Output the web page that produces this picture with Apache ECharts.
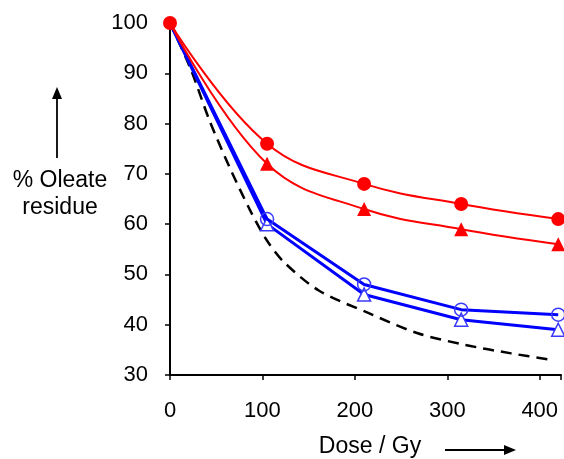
<!DOCTYPE html>
<html>
<head>
<meta charset="utf-8">
<script src="https://cdn.jsdelivr.net/npm/echarts@6/dist/echarts.min.js"></script>
<style>
  html, body { margin: 0; padding: 0; background: #fff; }
  #chart { width: 564px; height: 459px; }
</style>
</head>
<body>
<div id="chart"></div>
<script>
// Dose (Gy) at which samples were measured
const doses = [0, 105, 210, 315, 420];

// % oleate residue for each sample set
const redCircle    = [100, 76, 68, 64, 61];
const redTriangle  = [100, 72, 63, 59, 56];
const blueCircle   = [100, 61, 48, 43, 42];
const blueTriangle = [100, 60, 46, 41, 39];

// Reference curve (dashed), dose / residue pairs
const refDose  = [0, 22, 43, 64, 86, 104, 123, 161, 215, 268, 319, 369, 410];
const refValue = [100, 91, 80.5, 71.5, 63, 57, 52.5, 46.8, 42.3, 38.3, 36, 34.3, 33.1];

const xTicks = [0, 100, 200, 300, 400];
const yTicks = [30, 40, 50, 60, 70, 80, 90, 100];

const FONT = 'Liberation Sans, Arial, sans-serif';

function pairs(xs, ys, hideFirst) {
  return xs.map((x, i) => {
    const item = { value: [x, ys[i]] };
    if (hideFirst && i === 0) item.symbol = 'none';
    return item;
  });
}

const chart = echarts.init(document.getElementById('chart'), null, { renderer: 'canvas' });

chart.setOption({
  animation: false,
  backgroundColor: '#fff',
  grid: { left: 170, top: 23, right: 0, bottom: 84, containLabel: false },
  xAxis: {
    type: 'value',
    min: 0,
    max: 423,
    interval: 100,
    axisLine: { show: true, onZero: false, lineStyle: { color: '#000', width: 2 } },
    axisTick: { show: true, inside: false, length: 5, lineStyle: { color: '#000', width: 1.5 } },
    axisLabel: {
      margin: 25,
      fontSize: 22,
      fontFamily: FONT,
      color: '#000',
      formatter: v => (xTicks.includes(v) ? String(v) : '')
    },
    splitLine: { show: false }
  },
  yAxis: {
    type: 'value',
    min: yTicks[0],
    max: yTicks[yTicks.length - 1],
    interval: 10,
    axisLine: { show: true, onZero: false, lineStyle: { color: '#000', width: 2 } },
    axisTick: { show: true, inside: false, length: 5, lineStyle: { color: '#000', width: 1.5 } },
    axisLabel: {
      margin: 22,
      fontSize: 22,
      fontFamily: FONT,
      color: '#000',
      formatter: v => (yTicks.includes(v) ? String(v) : '')
    },
    splitLine: { show: false }
  },
  series: [
    {
      name: 'reference',
      type: 'line',
      data: pairs(refDose, refValue),
      showSymbol: false,
      smooth: 0.3,
      clip: false,
      z: 1,
      lineStyle: { color: '#000', width: 2.5, type: [11, 7] }
    },
    {
      name: 'blue triangle',
      type: 'line',
      data: pairs(doses, blueTriangle, true),
      symbol: 'triangle',
      symbolSize: 13,
      clip: false,
      z: 2,
      lineStyle: { color: '#0000ff', width: 3 },
      itemStyle: { color: '#fff', borderColor: '#3a3aff', borderWidth: 1.5 }
    },
    {
      name: 'blue circle',
      type: 'line',
      data: pairs(doses, blueCircle, true),
      symbol: 'circle',
      symbolSize: 13,
      clip: false,
      z: 3,
      lineStyle: { color: '#0000ff', width: 3 },
      itemStyle: { color: 'rgba(255,255,255,0)', borderColor: '#3a3aff', borderWidth: 1.5 }
    },
    {
      name: 'red triangle',
      type: 'line',
      data: pairs(doses, redTriangle, true),
      symbol: 'triangle',
      symbolSize: 14,
      smooth: 0.4,
      clip: false,
      z: 4,
      lineStyle: { color: '#ff0000', width: 2 },
      itemStyle: { color: '#ff0000' }
    },
    {
      name: 'red circle',
      type: 'line',
      data: pairs(doses, redCircle),
      symbol: 'circle',
      symbolSize: 14,
      smooth: 0.4,
      clip: false,
      z: 5,
      lineStyle: { color: '#ff0000', width: 2 },
      itemStyle: { color: '#ff0000' }
    }
  ],
  graphic: [
    // y axis caption with upward arrow
    {
      type: 'text',
      position: [60, 167],
      style: {
        text: '% Oleate\nresidue',
        font: '23px ' + FONT,
        fill: '#000',
        textAlign: 'center',
        lineHeight: 27
      }
    },
    {
      type: 'line',
      shape: { x1: 57, y1: 158, x2: 57, y2: 97 },
      style: { stroke: '#000', lineWidth: 1.8 }
    },
    {
      type: 'polygon',
      shape: { points: [[57, 87], [52, 99], [62, 99]] },
      style: { fill: '#000' }
    },
    // x axis caption with right arrow
    {
      type: 'text',
      position: [370, 435],
      style: {
        text: 'Dose / Gy',
        font: '23px ' + FONT,
        fill: '#000',
        textAlign: 'center'
      }
    },
    {
      type: 'line',
      shape: { x1: 445, y1: 450, x2: 505, y2: 450 },
      style: { stroke: '#000', lineWidth: 1.8 }
    },
    {
      type: 'polygon',
      shape: { points: [[516, 450], [504, 445], [504, 455]] },
      style: { fill: '#000' }
    }
  ]
});
</script>
</body>
</html>
